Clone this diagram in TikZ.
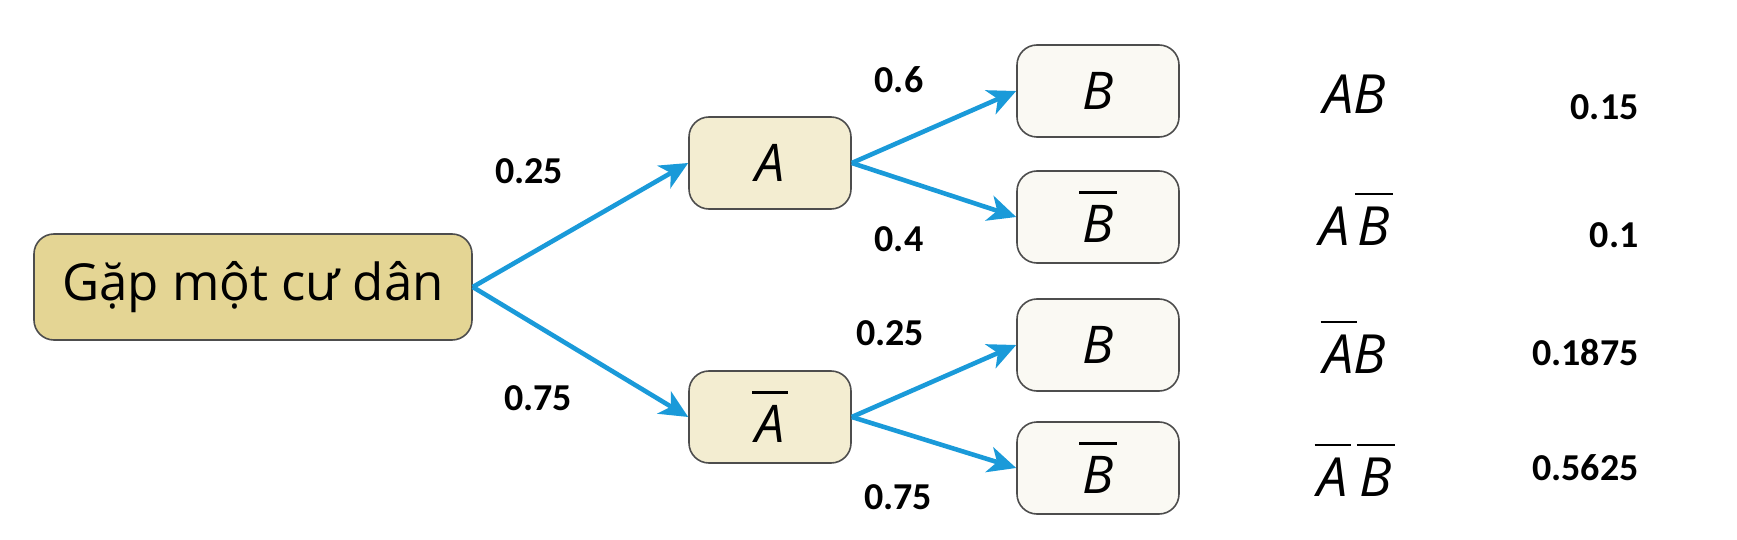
\documentclass[tikz,border=0pt]{standalone}
\usepackage{fontspec}
\setmainfont{Open Sans}
\newfontfamily\numfont{Carlito}
\usepackage{tikz}
\usetikzlibrary{arrows.meta}
\definecolor{rootfill}{HTML}{E4D594}
\definecolor{afill}{HTML}{F3EDD1}
\definecolor{bfill}{HTML}{FAF9F3}
\definecolor{branchblue}{HTML}{1A9AD9}
\definecolor{boxline}{HTML}{4D4D4D}
\newcommand{\comp}[1]{\leavevmode\kern-1.5pt\vbox{\hrule height 1.2pt\kern 6pt\hbox{\kern1.5pt#1\kern1.5pt}}\kern-1.5pt}

\begin{document}
\begin{tikzpicture}[x=0.5pt,y=-0.5pt]
  \tikzset{box/.style={draw=boxline,line width=0.8pt,rounded corners=10pt,minimum height=46pt,minimum width=81pt,inner sep=0pt},
           root/.style={box,fill=rootfill,minimum width=219pt,minimum height=53pt,font=\fontsize{25.5}{30}\selectfont},
           event/.style={box,fill=afill,font=\fontsize{26}{30}\selectfont\itshape},
           leaf/.style={box,fill=bfill,font=\fontsize{26}{30}\selectfont\itshape},
           combo/.style={inner sep=0pt,font=\fontsize{27}{32}\selectfont\itshape},
           prob/.style={inner sep=0pt,font=\numfont\bfseries\fontsize{19}{22}\selectfont},
           branch/.style={draw=branchblue,line width=2.3pt,-{Stealth[length=14pt,width=13pt,inset=4pt]}}}
  \useasboundingbox (0,0) rectangle (1737,540);
  % tree
  \node[root] (start) at (253,287) {Gặp một cư dân};
  \node[event] (A) at (770,163) {A};
  \node[event] (notA) at (770,417) {\comp{A}};
  \node[leaf] (AB) at (1098,91) {B};
  \node[leaf] (AnotB) at (1098,217) {\comp{B}};
  \node[leaf] (notAB) at (1098,345) {B};
  \node[leaf] (notAnotB) at (1098,468) {\comp{B}};
  \draw[branch] (start.east) -- (A.west);
  \draw[branch] (start.east) -- (notA.west);
  \draw[branch] (A.east) -- (AB.west);
  \draw[branch] (A.east) -- (AnotB.west);
  \draw[branch] (notA.east) -- (notAB.west);
  \draw[branch] (notA.east) -- (notAnotB.west);
  % branch probabilities
  \node[prob] (pA) at (529,171) {0.25};
  \node[prob] (pnotA) at (538,398) {0.75};
  \node[prob] (pBA) at (899,80) {0.6};
  \node[prob] (pnotBA) at (899,239) {0.4};
  \node[prob] (pBnotA) at (890,333) {0.25};
  \node[prob] (pnotBnotA) at (898,497) {0.75};
  % outcomes
  \node[combo] (cAB) at (1355,94) {AB};
  \node[combo] (cAnotB) at (1355,219) {A\kern4pt\comp{B}};
  \node[combo] (cnotAB) at (1355,347) {\comp{A}B};
  \node[combo] (cnotAnotB) at (1355,470) {\comp{A}\kern6pt\comp{B}};
  \node[prob,anchor=east] (rAB) at (1639,107) {0.15};
  \node[prob,anchor=east] (rAnotB) at (1639,235) {0.1};
  \node[prob,anchor=east] (rnotAB) at (1639,353) {0.1875};
  \node[prob,anchor=east] (rnotAnotB) at (1639,468) {0.5625};
\end{tikzpicture}
\end{document}
